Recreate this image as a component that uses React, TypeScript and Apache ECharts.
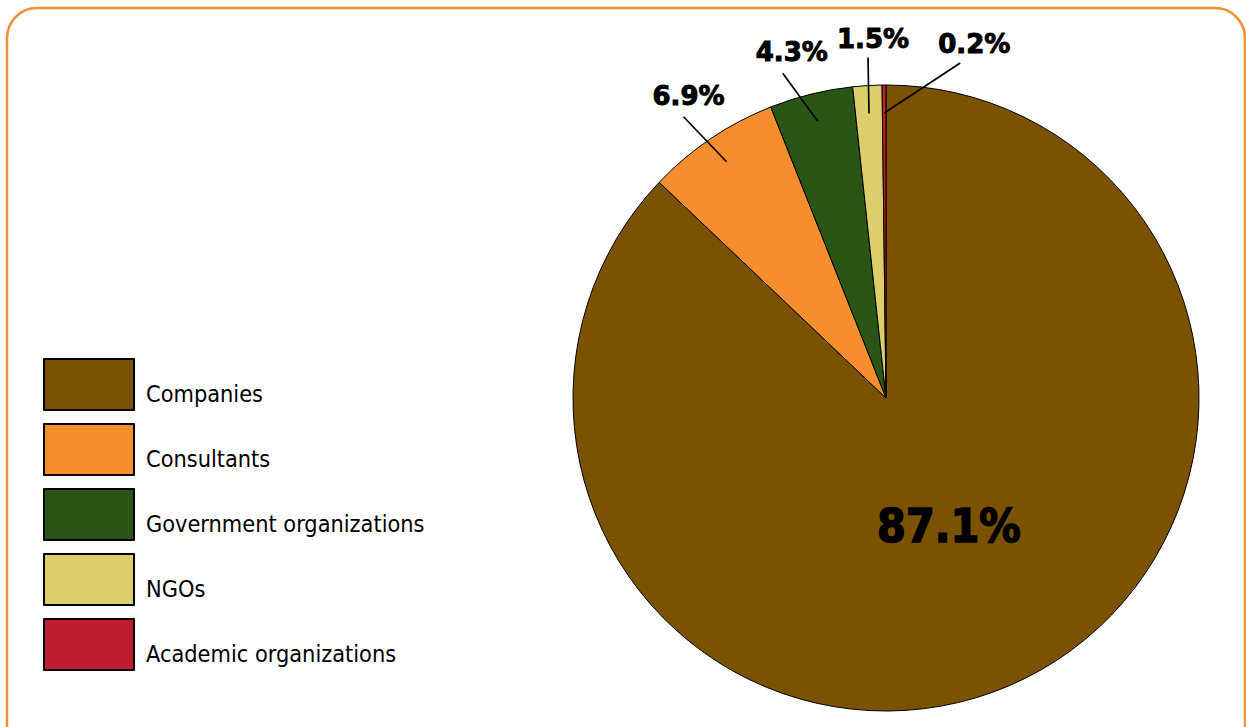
import React, { useEffect, useRef } from "react";
import * as echarts from "echarts";

const categories = [
  "Companies",
  "Consultants",
  "Government organizations",
  "NGOs",
  "Academic organizations",
];
const shares = [87.1, 6.9, 4.3, 1.5, 0.2];
const colors = ["#7A5200", "#F68E2E", "#2A5514", "#DDCE6C", "#BE1E2D"];

// leader-line styling (offsets from the line's inner start point), not data
const LEADER_INSET = 28;
const LEADER: number[][] = [
  [0, 0],
  [-43, -45],
  [-35, -48],
  [-1, -56],
  [76, -50],
];
const LABEL_SHIFT: number[][] = [
  [0, 0],
  [5, -21],
  [9, -21],
  [5, -19],
  [14, -19],
];

const CENTER = [886, 398];
const RADIUS = 313;

export default function App() {
  const ref = useRef<HTMLDivElement>(null);
  useEffect(() => {
    document.body.style.margin = "0";
    if (!ref.current) return;
    const chart = echarts.init(ref.current, undefined, { renderer: "svg" });

    const pieData = categories.map((name, i) => ({
      name,
      value: shares[i],
      itemStyle: { color: colors[i] },
    }));

    const labelData = categories.map((name, i) => {
      const item: any = { name, value: shares[i] };
      if (i === 0) {
        item.label = {
          position: "inside",
          fontSize: 46,
          fontFamily: "'DejaVu Sans Condensed', 'DejaVu Sans', sans-serif",
          textBorderColor: "#000",
          textBorderWidth: 1.5,
        };
        item.labelLine = { show: false };
      }
      return item;
    });

    chart.setOption({
      animation: false,
      backgroundColor: "#ffffff",
      graphic: [
        {
          type: "rect",
          z: -10,
          shape: { x: 7, y: 8, width: 1238, height: 760, r: 30 },
          style: { fill: "none", stroke: "#F58F2F", lineWidth: 2.5 },
          silent: true,
        },
      ],
      legend: {
        orient: "vertical",
        left: 43,
        top: 358,
        padding: 0,
        itemWidth: 90,
        itemHeight: 51,
        itemGap: 12,
        icon: "rect",
        selectedMode: false,
        data: categories,
        formatter: (name: string) => "{t|" + name + "}",
        textStyle: {
          color: "#000",
          fontSize: 23.3,
          fontFamily: "'DejaVu Sans Condensed', 'DejaVu Sans', sans-serif",
          rich: {
            t: {
              color: "#000",
              fontSize: 23.3,
              fontFamily: "'DejaVu Sans Condensed', 'DejaVu Sans', sans-serif",
              padding: [18, 0, 0, 7],
            },
          },
        },
      },
      series: [
        {
          name: "pie",
          type: "pie",
          center: CENTER,
          radius: RADIUS,
          startAngle: 90,
          clockwise: true,
          silent: true,
          itemStyle: { borderColor: "#000", borderWidth: 1 },
          label: { show: false },
          labelLine: { show: false },
          data: pieData,
        },
        {
          name: "labels",
          type: "pie",
          z: 5,
          center: CENTER,
          radius: RADIUS,
          startAngle: 90,
          clockwise: true,
          avoidLabelOverlap: false,
          silent: true,
          itemStyle: { color: "rgba(0,0,0,0)", borderWidth: 0 },
          label: {
            show: true,
            position: "outside",
            formatter: (p: any) => p.value.toFixed(1) + "%",
            color: "#000",
            fontSize: 26,
            fontWeight: "bold",
            fontFamily: "'DejaVu Sans', sans-serif",
            textBorderColor: "#000",
            textBorderWidth: 1,
          },
          labelLine: {
            show: true,
            showAbove: true,
            length: 30,
            length2: 0,
            lineStyle: { color: "#000", width: 1.7 },
          },
          labelLayout: (params: any) => {
            const i = params.dataIndex;
            if (i === 0) {
              const r = params.labelRect;
              return {
                x: r.x + r.width / 2,
                y: r.y + r.height / 2 - 19,
                align: "center",
                verticalAlign: "middle",
              };
            }
            const pts = params.labelLinePoints;
            if (!pts || pts.length < 2) return {};
            const p0 = pts[0];
            const p1 = pts[1];
            const L = Math.hypot(p1[0] - p0[0], p1[1] - p0[1]) || 1;
            const ux = (p1[0] - p0[0]) / L;
            const uy = (p1[1] - p0[1]) / L;
            const start = [p0[0] - ux * LEADER_INSET, p0[1] - uy * LEADER_INSET];
            const end = [start[0] + LEADER[i][0], start[1] + LEADER[i][1]];
            return {
              x: end[0] + LABEL_SHIFT[i][0],
              y: end[1] + LABEL_SHIFT[i][1],
              align: "center",
              verticalAlign: "middle",
              labelLinePoints: [start, end, end],
            };
          },
          data: labelData,
        },
      ],
    });
    return () => chart.dispose();
  }, []);
  return <div ref={ref} style={{ width: 1246, height: 727 }} />;
}
